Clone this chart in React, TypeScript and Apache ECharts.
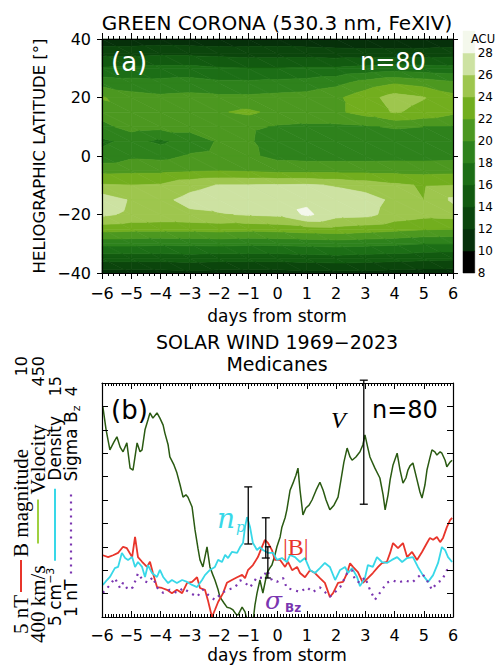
import React, { useEffect, useRef } from "react";
import * as echarts from "echarts";

// ---------- Panel (a): green corona intensity (ACU) ----------
const days = [-6, -5, -4, -3, -2, -1, 0, 1, 2, 3, 4, 5, 6];
const latitudes = [40, 35, 30, 25, 20, 15, 10, 5, 0, -5, -10, -15, -20, -25, -30, -35, -40];

const acuLatP40 = [10.6, 10.6, 10.8, 10.6, 10.6, 10.8, 10.8, 10.6, 10.4, 10.3, 10.2, 10.3, 10.4];
const acuLatP35 = [13.4, 13.4, 13.6, 13.6, 13.4, 13.2, 13.2, 13.2, 13.0, 12.9, 12.9, 13.0, 13.2];
const acuLatP30 = [16.2, 16.4, 16.6, 16.6, 16.2, 16.0, 16.0, 16.2, 16.2, 16.6, 17.0, 16.8, 16.6];
const acuLatP25 = [19.2, 18.8, 18.6, 18.8, 18.4, 18.4, 18.6, 18.8, 19.4, 20.8, 21.8, 21.2, 20.4];
const acuLatP20 = [22.2, 20.8, 20.4, 20.6, 20.4, 20.4, 20.6, 20.8, 21.6, 23.2, 24.8, 24.1, 22.6];
const acuLatP15 = [20.8, 21.4, 21.4, 21.2, 21.8, 22.4, 21.4, 21.4, 21.6, 22.8, 24.2, 23.4, 22.4];
const acuLatP10 = [19.4, 20.8, 20.6, 20.6, 20.6, 20.4, 19.8, 19.6, 19.6, 19.8, 20.2, 20.0, 19.8];
const acuLatP05 = [17.6, 18.6, 17.6, 19.0, 20.2, 20.3, 18.8, 18.8, 18.8, 18.8, 18.8, 18.8, 18.9];
const acuLat000 = [18.6, 19.6, 19.4, 20.2, 20.5, 20.4, 19.4, 19.2, 19.2, 19.2, 19.3, 19.3, 19.4];
const acuLatM05 = [21.4, 21.5, 21.5, 21.7, 21.9, 21.7, 21.4, 21.4, 21.4, 21.4, 21.4, 21.3, 21.4];
const acuLatM10 = [24.2, 24.0, 24.2, 25.4, 26.1, 26.1, 26.2, 26.3, 25.8, 25.2, 24.4, 23.8, 24.0];
const acuLatM15 = [27.2, 25.8, 25.5, 26.6, 27.2, 27.0, 27.2, 27.6, 27.3, 26.8, 25.6, 24.0, 26.4];
const acuLatM20 = [26.4, 25.6, 25.4, 25.6, 25.8, 26.2, 26.4, 28.4, 26.8, 26.6, 25.2, 24.6, 24.8];
const acuLatM25 = [22.8, 22.6, 22.6, 22.6, 22.8, 22.6, 22.8, 23.2, 23.4, 23.0, 22.6, 22.2, 22.0];
const acuLatM30 = [18.6, 18.6, 18.4, 18.5, 18.6, 18.4, 18.5, 18.6, 18.8, 18.6, 18.4, 18.0, 18.0];
const acuLatM35 = [14.8, 14.8, 14.8, 15.0, 14.8, 14.8, 14.8, 15.0, 15.2, 15.0, 14.8, 14.6, 14.4];
const acuLatM40 = [11.2, 11.2, 11.2, 11.4, 11.2, 11.2, 11.2, 11.4, 11.4, 11.4, 11.2, 11.0, 11.0];

const acuRows = [
  acuLatP40, acuLatP35, acuLatP30, acuLatP25, acuLatP20, acuLatP15, acuLatP10, acuLatP05, acuLat000,
  acuLatM05, acuLatM10, acuLatM15, acuLatM20, acuLatM25, acuLatM30, acuLatM35, acuLatM40,
];

const acuLevels = [8, 10, 12, 14, 16, 18, 20, 22, 24, 26, 28, 30];
const acuColors = [
  "#000000", "#06300a", "#0b450c", "#125a10", "#1c6e16", "#2e821c",
  "#4c9820", "#72ae1e", "#9ec64e", "#cde2a2", "#f4f8ec",
];

// ---------- Panel (b): solar wind superposed epoch ----------
const velocity: [number, number][] = [
  [-5.97, 444.9], [-5.86, 440.0], [-5.73, 435.7], [-5.59, 437.4], [-5.49, 438.5], [-5.38, 436.3], [-5.28, 435.3],
  [-5.15, 437.2], [-5.04, 431.8], [-4.94, 431.4], [-4.80, 437.2], [-4.70, 435.3], [-4.63, 435.7], [-4.53, 440.0],
  [-4.43, 442.1], [-4.36, 443.6], [-4.26, 442.5], [-4.12, 443.6], [-4.02, 442.5], [-3.91, 441.0], [-3.85, 439.3],
  [-3.74, 436.8], [-3.68, 434.2], [-3.54, 432.5], [-3.44, 430.8], [-3.33, 428.2], [-3.23, 425.6], [-3.13, 426.1],
  [-3.06, 425.6], [-2.92, 423.5], [-2.82, 418.6], [-2.72, 414.7], [-2.65, 412.2], [-2.55, 410.7], [-2.41, 415.0],
  [-2.31, 410.7], [-2.21, 409.0], [-2.14, 407.9], [-2.03, 405.8], [-1.97, 404.3], [-1.83, 403.0], [-1.73, 402.1],
  [-1.62, 401.9], [-1.52, 401.5], [-1.42, 400.6], [-1.35, 400.4], [-1.21, 402.1], [-1.11, 401.1], [-1.04, 399.4],
  [-0.94, 398.3], [-0.84, 398.9], [-0.77, 402.6], [-0.70, 405.1], [-0.60, 407.9], [-0.50, 405.1], [-0.36, 409.4],
  [-0.26, 410.5], [-0.19, 411.1], [-0.09, 413.2], [-0.02, 415.0], [0.09, 417.1], [0.15, 419.2], [0.26, 421.2],
  [0.32, 422.9], [0.43, 427.1], [0.53, 428.6], [0.63, 430.3], [0.70, 431.8], [0.77, 427.1], [0.87, 421.8],
  [0.97, 423.3], [1.08, 423.9], [1.18, 425.0], [1.32, 427.1], [1.45, 428.8], [1.56, 427.1], [1.66, 425.0],
  [1.79, 422.9], [1.93, 423.9], [2.07, 425.6], [2.17, 429.3], [2.27, 433.1], [2.38, 436.1], [2.48, 434.2],
  [2.55, 433.5], [2.68, 434.2], [2.82, 435.3], [2.92, 436.8], [2.99, 438.9], [3.09, 436.1], [3.16, 434.2],
  [3.33, 431.8], [3.50, 429.7], [3.61, 426.1], [3.68, 422.9], [3.78, 426.1], [3.85, 429.3], [3.95, 432.5],
  [4.09, 435.0], [4.19, 431.4], [4.29, 428.6], [4.39, 429.7], [4.46, 431.4], [4.53, 432.3], [4.63, 432.9],
  [4.77, 429.3], [4.87, 426.7], [4.94, 425.4], [5.04, 428.2], [5.11, 431.4], [5.21, 434.0], [5.28, 435.7],
  [5.38, 435.3], [5.45, 434.6], [5.56, 435.3], [5.62, 435.0], [5.73, 433.5], [5.79, 432.1], [5.90, 433.1],
  [5.97, 433.5],
];

const bMagnitude: [number, number][] = [
  [-5.97, 6.32], [-5.79, 6.28], [-5.62, 6.32], [-5.45, 6.37], [-5.28, 6.50], [-5.15, 6.47], [-4.97, 6.28],
  [-4.87, 6.71], [-4.77, 6.28], [-4.63, 6.18], [-4.46, 6.07], [-4.36, 6.18], [-4.26, 5.94], [-4.12, 5.64],
  [-3.95, 5.62], [-3.78, 5.58], [-3.61, 5.51], [-3.44, 5.58], [-3.26, 5.51], [-3.09, 5.73], [-2.92, 5.75],
  [-2.75, 5.85], [-2.65, 5.62], [-2.48, 5.58], [-2.38, 5.36], [-2.24, 5.00], [-2.14, 5.15], [-2.03, 5.32],
  [-1.86, 5.51], [-1.73, 5.73], [-1.56, 5.79], [-1.38, 5.85], [-1.21, 5.90], [-1.11, 5.83], [-1.01, 6.00],
  [-0.84, 6.11], [-0.67, 6.28], [-0.53, 6.50], [-0.43, 6.65], [-0.32, 6.58], [-0.19, 6.43], [-0.09, 6.22],
  [0.09, 6.22], [0.26, 6.07], [0.36, 6.18], [0.50, 6.00], [0.67, 6.07], [0.77, 5.94], [0.94, 5.85],
  [1.11, 6.00], [1.28, 5.94], [1.45, 5.83], [1.62, 5.73], [1.79, 5.43], [1.90, 5.51], [2.07, 5.73],
  [2.24, 5.75], [2.38, 5.94], [2.48, 6.15], [2.58, 6.07], [2.75, 5.96], [2.92, 5.73], [3.09, 5.83],
  [3.26, 5.94], [3.44, 6.07], [3.57, 6.15], [3.74, 6.18], [3.85, 6.37], [3.95, 6.58], [4.12, 6.47],
  [4.29, 6.58], [4.43, 6.28], [4.60, 6.39], [4.77, 6.22], [4.94, 6.39], [5.11, 6.58], [5.21, 6.69],
  [5.32, 6.65], [5.45, 6.71], [5.56, 6.60], [5.66, 6.69], [5.79, 6.92], [5.90, 7.07], [5.97, 7.12],
];

const density: [number, number][] = [
  [-5.97, 6.37], [-5.83, 6.58], [-5.73, 6.71], [-5.56, 7.09], [-5.45, 7.14], [-5.32, 7.74], [-5.21, 7.52],
  [-5.11, 7.44], [-4.97, 7.56], [-4.87, 7.14], [-4.77, 7.35], [-4.63, 7.14], [-4.53, 6.71], [-4.43, 7.22],
  [-4.29, 6.88], [-4.12, 6.71], [-4.02, 7.01], [-3.91, 6.71], [-3.74, 6.45], [-3.61, 6.58], [-3.44, 6.45],
  [-3.26, 6.58], [-3.09, 6.50], [-2.92, 6.37], [-2.75, 6.28], [-2.58, 6.58], [-2.48, 6.79], [-2.31, 7.01],
  [-2.14, 7.14], [-2.03, 7.44], [-1.90, 7.35], [-1.79, 7.65], [-1.69, 7.52], [-1.56, 7.78], [-1.38, 7.74],
  [-1.28, 7.99], [-1.18, 8.16], [-1.11, 8.85], [-1.04, 9.27], [-0.94, 8.85], [-0.84, 8.16], [-0.70, 7.86],
  [-0.60, 7.99], [-0.50, 7.86], [-0.32, 7.74], [-0.15, 7.74], [-0.02, 7.44], [0.15, 7.52], [0.32, 7.35],
  [0.43, 7.65], [0.60, 7.56], [0.77, 7.35], [0.94, 7.52], [1.11, 7.01], [1.28, 6.88], [1.45, 7.09],
  [1.62, 7.31], [1.79, 7.14], [1.97, 6.58], [2.14, 7.01], [2.31, 7.14], [2.41, 6.88], [2.55, 7.09],
  [2.72, 6.71], [2.82, 6.32], [2.99, 6.67], [3.09, 7.22], [3.26, 7.14], [3.40, 7.56], [3.57, 7.35],
  [3.74, 7.31], [3.91, 7.44], [4.09, 7.56], [4.26, 7.35], [4.43, 7.52], [4.63, 7.56], [4.80, 7.14],
  [4.97, 6.79], [5.15, 6.50], [5.32, 6.79], [5.49, 7.31], [5.62, 7.99], [5.73, 7.86], [5.83, 7.56],
  [5.97, 7.35],
];

const sigmaBz: [number, number][] = [
  [-5.97, 1.31], [-5.73, 1.41], [-5.56, 1.50], [-5.38, 1.37], [-5.28, 1.44], [-5.11, 1.35], [-4.94, 1.38],
  [-4.77, 1.56], [-4.60, 1.47], [-4.43, 1.44], [-4.26, 1.51], [-4.12, 1.38], [-3.91, 1.31], [-3.68, 1.35],
  [-3.44, 1.31], [-3.23, 1.37], [-2.99, 1.31], [-2.75, 1.26], [-2.55, 1.35], [-2.31, 1.26], [-2.14, 1.22],
  [-1.90, 1.31], [-1.69, 1.35], [-1.45, 1.38], [-1.28, 1.47], [-1.11, 1.44], [-0.94, 1.38], [-0.70, 1.51],
  [-0.50, 1.50], [-0.36, 1.60], [-0.19, 1.47], [-0.02, 1.45], [0.19, 1.50], [0.32, 1.37], [0.53, 1.35],
  [0.77, 1.32], [1.01, 1.38], [1.21, 1.32], [1.45, 1.38], [1.62, 1.32], [1.79, 1.26], [1.97, 1.32],
  [2.14, 1.38], [2.38, 1.56], [2.55, 1.60], [2.65, 1.47], [2.82, 1.44], [2.99, 1.51], [3.16, 1.35],
  [3.33, 1.22], [3.50, 1.31], [3.74, 1.44], [3.95, 1.47], [4.12, 1.44], [4.36, 1.47], [4.60, 1.44],
  [4.77, 1.50], [4.94, 1.56], [5.11, 1.47], [5.28, 1.35], [5.45, 1.44], [5.62, 1.47], [5.79, 1.60],
  [5.97, 1.64],
];

// error bars: [day, low, high]
const velocityError: [number, number, number][] = [[2.95, 424.1, 450.6]];
const densityError: [number, number, number][] = [[-1.0, 8.12, 10.56]];
const bError: [number, number, number][] = [[-0.4, 6.26, 7.12]];
const sigmaError: [number, number, number][] = [[-0.33, 1.5, 1.9]];

const SANS = "DejaVu Sans";
const SERIF = "Liberation Serif";
const RED = "#e8352b";
const VGREEN = "#2a5a12";
const VLEGEND = "#9fd040";
const CYAN = "#38d8e8";
const PURPLE = "#7a35b0";

type P3 = [number, number, number];
function clipPoly(poly: P3[], level: number, above: boolean): P3[] {
  const out: P3[] = [];
  const inside = (p: P3) => (above ? p[2] >= level : p[2] <= level);
  for (let k = 0; k < poly.length; k++) {
    const a = poly[k];
    const b = poly[(k + 1) % poly.length];
    const ia = inside(a);
    const ib = inside(b);
    if (ia) out.push(a);
    if (ia !== ib) {
      const t = (level - a[2]) / (b[2] - a[2]);
      out.push([a[0] + t * (b[0] - a[0]), a[1] + t * (b[1] - a[1]), level]);
    }
  }
  return out;
}

let measureCtx: CanvasRenderingContext2D | null = null;
function measure(text: string, size: number, family: string, style = "normal"): number {
  if (!measureCtx) measureCtx = document.createElement("canvas").getContext("2d");
  measureCtx!.font = `${style} ${size}px "${family}"`;
  return measureCtx!.measureText(text).width;
}

type Seg =
  | { kind: "text"; text: string; size: number; family: string; shift?: number }
  | { kind: "line"; len: number; color: string; dash?: number[]; width?: number }
  | { kind: "gap"; len: number };

function column(x: number, yBottom: number, segs: Seg[]) {
  const children: any[] = [];
  let pos = 0;
  segs.forEach((s) => {
    if (s.kind === "text") {
      children.push({
        type: "text",
        x: pos,
        y: s.shift || 0,
        style: { text: s.text, fontSize: s.size, fontFamily: s.family, fill: "#000", align: "left", verticalAlign: "middle" },
      });
      pos += measure(s.text, s.size, s.family);
    } else if (s.kind === "line") {
      children.push({
        type: "line",
        shape: { x1: pos, y1: 0, x2: pos + s.len, y2: 0 },
        style: { stroke: s.color, lineWidth: s.width || 2, lineDash: s.dash || null },
      });
      pos += s.len;
    } else {
      pos += s.len;
    }
  });
  return { type: "group", x, y: yBottom, rotation: Math.PI / 2, children, z: 100 };
}

function rotEnd(text: string, x: number, yTop: number, size: number) {
  return {
    type: "text",
    x,
    y: yTop,
    rotation: Math.PI / 2,
    z: 100,
    style: { text, fontSize: size, fontFamily: SANS, fill: "#000", align: "right", verticalAlign: "middle" },
  };
}

function label(text: string, x: number, y: number, size: number, opts: any = {}) {
  return {
    type: "text",
    x,
    y,
    z: 100,
    rotation: opts.rot || 0,
    style: {
      text,
      fontSize: size,
      fontFamily: opts.family || SANS,
      fontStyle: opts.italic ? "italic" : "normal",
      fontWeight: opts.bold ? "bold" : "normal",
      fill: opts.color || "#000",
      align: opts.align || "left",
      verticalAlign: "middle",
    },
  };
}

const minusFmt = (v: number) => String(v).replace("-", "\u2212");

function errorBarSeries(data: [number, number, number][], yAxisIndex: number, cap: number) {
  return {
    type: "custom",
    xAxisIndex: 3,
    yAxisIndex,
    z: 20,
    clip: false,
    data,
    encode: { x: 0, y: [1, 2] },
    renderItem: (_p: any, api: any) => {
      const x = api.value(0);
      const lo = api.coord([x, api.value(1)]);
      const hi = api.coord([x, api.value(2)]);
      const st = { stroke: "#000", lineWidth: 1.3 };
      return {
        type: "group",
        children: [
          { type: "line", shape: { x1: lo[0], y1: lo[1], x2: hi[0], y2: hi[1] }, style: st },
          { type: "line", shape: { x1: lo[0] - cap, y1: lo[1], x2: lo[0] + cap, y2: lo[1] }, style: st },
          { type: "line", shape: { x1: hi[0] - cap, y1: hi[1], x2: hi[0] + cap, y2: hi[1] }, style: st },
        ],
      };
    },
  };
}

export default function App() {
  const ref = useRef<HTMLDivElement>(null);

  useEffect(() => {
    if (!ref.current) return;
    const chart = echarts.init(ref.current, null, { renderer: "svg" });

    const cells: number[][] = [];
    for (let i = 0; i < days.length - 1; i++)
      for (let j = 0; j < latitudes.length - 1; j++) cells.push([i, j, days[i], latitudes[j]]);

    const bands = acuColors.map((c, k) => [acuLevels[k], acuLevels[k + 1], k]);

    const axisLineBlack = { show: true, onZero: false, lineStyle: { color: "#000", width: 1.2 } };
    const tickLabel = { color: "#000", fontSize: 16, fontFamily: SANS };

    const xAx = (grid: number, inside: boolean, split: number, pos: "top" | "bottom", labels: boolean, margin: number) => ({
      type: "value",
      gridIndex: grid,
      min: -6,
      max: 6,
      interval: 1,
      position: pos,
      z: 10,
      axisLine: axisLineBlack,
      axisTick: { show: true, inside, length: 6, lineStyle: { color: "#000", width: 1 } },
      minorTick: { show: true, splitNumber: split, length: 3, lineStyle: { color: "#000", width: 1 } },
      splitLine: { show: false },
      minorSplitLine: { show: false },
      axisLabel: labels ? { ...tickLabel, margin, formatter: minusFmt } : { show: false },
    });

    const option: any = {
      animation: false,
      backgroundColor: "#ffffff",
      grid: [
        { left: 102, top: 39, width: 351, height: 234, show: false },
        { left: 463, top: 31, width: 16, height: 242, show: false },
        { left: 102, top: 383, width: 351, height: 234, show: false },
      ],
      xAxis: [
        xAx(0, false, 5, "bottom", true, 12),
        xAx(0, false, 5, "top", false, 0),
        { type: "value", gridIndex: 1, min: 0, max: 1, show: false },
        xAx(2, true, 10, "bottom", true, 10),
        xAx(2, true, 10, "top", false, 0),
      ],
      yAxis: [
        {
          type: "value", gridIndex: 0, min: -40, max: 40, interval: 20, position: "left", z: 10,
          axisLine: axisLineBlack,
          axisTick: { show: true, inside: false, length: 5, lineStyle: { color: "#000" } },
          splitLine: { show: false },
          axisLabel: { ...tickLabel, margin: 11, formatter: minusFmt },
        },
        {
          type: "value", gridIndex: 0, min: -40, max: 40, interval: 20, position: "right", z: 10,
          axisLine: axisLineBlack,
          axisTick: { show: true, inside: false, length: 5, lineStyle: { color: "#000" } },
          splitLine: { show: false },
          axisLabel: { show: false },
        },
        {
          type: "value", gridIndex: 1, min: 8, max: 30, interval: 2, position: "right",
          axisLine: { show: false }, axisTick: { show: false }, splitLine: { show: false },
          axisLabel: { color: "#000", fontSize: 12, fontFamily: SANS, margin: 3, formatter: (v: number) => (v >= 30 ? "" : String(v)) },
        },
        {
          type: "value", gridIndex: 2, min: 5, max: 10, interval: 0.5, position: "left", z: 10,
          axisLine: axisLineBlack,
          axisTick: { show: true, inside: true, length: 6, lineStyle: { color: "#000" } },
          splitLine: { show: false }, axisLabel: { show: false },
        },
        {
          type: "value", gridIndex: 2, min: 0, max: 10, interval: 1, position: "right", z: 10,
          axisLine: axisLineBlack,
          axisTick: { show: true, inside: true, length: 6, lineStyle: { color: "#000" } },
          splitLine: { show: false }, axisLabel: { show: false },
        },
        { type: "value", gridIndex: 2, min: 400, max: 450, show: false },
        { type: "value", gridIndex: 2, min: 5, max: 15, show: false },
        { type: "value", gridIndex: 2, min: 1, max: 4, show: false },
      ],
      series: [
        {
          type: "custom",
          xAxisIndex: 0,
          yAxisIndex: 0,
          z: 1,
          data: cells,
          encode: { x: 2, y: 3 },
          renderItem: (_p: any, api: any) => {
            const i = api.value(0);
            const j = api.value(1);
            const v = (ii: number, jj: number) => acuRows[jj][ii];
            const c: P3[] = [
              [days[i], latitudes[j], v(i, j)],
              [days[i + 1], latitudes[j], v(i + 1, j)],
              [days[i + 1], latitudes[j + 1], v(i + 1, j + 1)],
              [days[i], latitudes[j + 1], v(i, j + 1)],
            ];
            const tris = [[c[0], c[1], c[2]], [c[0], c[2], c[3]]];
            const children: any[] = [];
            tris.forEach((tri) => {
              for (let b = 0; b < acuColors.length; b++) {
                let poly = clipPoly(tri, acuLevels[b], true);
                if (poly.length < 3) continue;
                if (b < acuColors.length - 1) poly = clipPoly(poly, acuLevels[b + 1], false);
                if (poly.length < 3) continue;
                const pts = poly.map((p) => api.coord([p[0], p[1]]));
                children.push({
                  type: "polygon",
                  shape: { points: pts },
                  style: { fill: acuColors[b], stroke: acuColors[b], lineWidth: 0.7 },
                });
              }
            });
            return { type: "group", children };
          },
        },
        {
          type: "custom",
          xAxisIndex: 2,
          yAxisIndex: 2,
          data: bands,
          encode: { y: [0, 1] },
          renderItem: (_p: any, api: any) => {
            const a = api.coord([0, api.value(0)]);
            const b = api.coord([1, api.value(1)]);
            const col = acuColors[api.value(2)];
            return {
              type: "rect",
              shape: { x: a[0], y: b[1], width: b[0] - a[0], height: a[1] - b[1] },
              style: { fill: col, stroke: col, lineWidth: 0.5 },
            };
          },
        },
        {
          type: "line", xAxisIndex: 3, yAxisIndex: 5, data: velocity, showSymbol: false, symbol: "none",
          lineStyle: { color: VGREEN, width: 1.5 }, z: 5,
        },
        {
          type: "line", xAxisIndex: 3, yAxisIndex: 3, data: bMagnitude, showSymbol: false, symbol: "none",
          lineStyle: { color: RED, width: 1.8 }, z: 6,
        },
        {
          type: "line", xAxisIndex: 3, yAxisIndex: 6, data: density, showSymbol: false, symbol: "none",
          lineStyle: { color: CYAN, width: 1.8 }, z: 7,
        },
        {
          type: "line", xAxisIndex: 3, yAxisIndex: 7, data: sigmaBz, showSymbol: false, symbol: "none",
          lineStyle: { color: PURPLE, width: 2.2, type: [2, 5] }, z: 8,
        },
        errorBarSeries(velocityError, 5, 4),
        errorBarSeries(densityError, 6, 4),
        errorBarSeries(bError, 3, 4),
        errorBarSeries(sigmaError, 7, 3),
      ],
      graphic: [
        label("GREEN CORONA (530.3 nm, FeXIV)", 277, 23, 20, { align: "center" }),
        label("days from storm", 277, 316, 17, { align: "center" }),
        label("HELIOGRAPHIC LATITUDE [°]", 39, 156, 16.5, { align: "center", rot: Math.PI / 2 }),
        label("ACU", 483, 39, 11.5, { align: "center" }),
        label("(a)", 111, 62, 26, { color: "#ffffff" }),
        label("n=80", 360, 62, 24, { color: "#ffffff" }),

        label("SOLAR WIND 1969\u22122023", 277, 342, 19, { align: "center" }),
        label("Medicanes", 277, 364, 19, { align: "center" }),
        label("days from storm", 277, 655, 17, { align: "center" }),
        label("(b)", 111, 410, 26),
        label("n=80", 372, 410, 24),
        label("V", 331, 420, 24, { family: SERIF, italic: true }),
        label("n", 217, 518, 28, { family: "DejaVu Serif", italic: true, color: CYAN }),
        label("p", 236, 527, 14, { family: "DejaVu Serif", italic: true, color: CYAN }),
        label("|B|", 283, 547, 24, { family: SERIF, color: RED }),
        label("\u03c3", 265, 600, 25, { family: "DejaVu Serif", italic: true, color: PURPLE }),
        label("Bz", 285, 608, 12, { color: PURPLE, bold: true }),

        column(21, 634, [
          { kind: "text", text: "5 nT", size: 21, family: SERIF },
          { kind: "gap", len: 3 },
          { kind: "line", len: 32, color: RED },
          { kind: "gap", len: 3 },
          { kind: "text", text: "B magnitude", size: 21, family: SERIF },
        ]),
        rotEnd("10", 21, 356, 16),
        column(38, 643, [
          { kind: "text", text: "400 km/s", size: 21, family: SERIF },
          { kind: "gap", len: 22 },
          { kind: "line", len: 44, color: VLEGEND },
          { kind: "gap", len: 5 },
          { kind: "text", text: "Velocity", size: 21, family: SERIF },
        ]),
        rotEnd("450", 38, 356, 16),
        column(55, 626, [
          { kind: "text", text: "5 cm", size: 17, family: SANS },
          { kind: "text", text: "\u22123", size: 11, family: SANS, shift: -5 },
          { kind: "gap", len: 7 },
          { kind: "line", len: 72, color: CYAN },
          { kind: "gap", len: 8 },
          { kind: "text", text: "Density", size: 17, family: SANS },
        ]),
        rotEnd("15", 55, 376, 16),
        column(71, 617, [
          { kind: "text", text: "1 nT", size: 17, family: SANS },
          { kind: "gap", len: 6 },
          { kind: "line", len: 84, color: PURPLE, dash: [2, 5], width: 2.2 },
          { kind: "gap", len: 8 },
          { kind: "text", text: "Sigma B", size: 17, family: SANS },
          { kind: "text", text: "z", size: 11, family: SANS, shift: 5 },
        ]),
        rotEnd("4", 71, 386, 16),
      ],
    };

    chart.setOption(option);
    return () => chart.dispose();
  }, []);

  return (
    <div
      ref={ref}
      style={{ position: "fixed", left: 0, top: 0, width: 496, height: 665, background: "#fff" }}
    />
  );
}
